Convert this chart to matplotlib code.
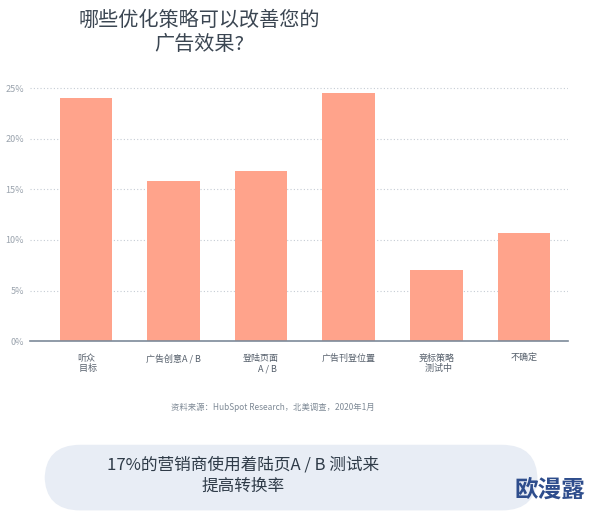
import matplotlib.pyplot as plt
from matplotlib.patches import FancyBboxPatch

plt.rcParams['font.family'] = ['Noto Sans CJK SC', 'DejaVu Sans']

categories = ["听众\n  目标", "广告创意A / B", "登陆页面\n      A / B", "广告刊登位置", "竞标策略\n  测试中", "不确定"]
values = [24.0, 15.8, 16.8, 24.5, 7.0, 10.7]
yticks = [0, 5, 10, 15, 20, 25]
ytick_labels = ["0%", "5%", "10%", "15%", "20%", "25%"]

fig = plt.figure(figsize=(5.94, 5.13), dpi=100)
ax = fig.add_axes([0.05, 0.335, 0.906, 0.509])

ax.bar(range(len(values)), values, width=0.6, color="#FFA38B", zorder=2)
ax.set_xlim(-0.64, 5.5)
ax.set_ylim(0, 25.8)
ax.set_yticks(yticks)
ax.set_yticklabels(ytick_labels, fontsize=6.5, color="#9aa3ad")
ax.yaxis.grid(True, linestyle=(0, (1, 2)), color="#c5ccd4", linewidth=0.8, zorder=0)
ax.tick_params(axis="y", length=0, pad=4)
ax.set_xticks(range(len(categories)))
ax.set_xticklabels(categories, fontsize=6.5, color="#555f6b", va="top")
ax.tick_params(axis="x", length=0, pad=9)
for s in ["top", "right", "left"]:
    ax.spines[s].set_visible(False)
ax.spines["bottom"].set_color("#7d8a99")
ax.spines["bottom"].set_linewidth(1.2)

fig.text(0.335, 0.98, "哪些优化策略可以改善您的\n广告效果?", ha="center", va="top",
         fontsize=14.5, color="#3b4652", linespacing=1.2)
fig.text(0.46, 0.2, "资料来源：HubSpot Research，北美调查，2020年1月", ha="center",
         fontsize=6, color="#7f8a96")

box = FancyBboxPatch((0.075, 0.005), 0.83, 0.128, boxstyle="round,pad=0,rounding_size=0.06",
                     transform=fig.transFigure, facecolor="#e8edf5", edgecolor="none",
                     mutation_aspect=594 / 513)
fig.patches.append(box)
fig.text(0.41, 0.073, "17%的营销商使用着陆页A / B 测试来\n提高转换率", ha="center", va="center",
         fontsize=12, color="#2f3b48", linespacing=1.3)
fig.text(0.925, 0.045, "欧漫露", ha="center", va="center", fontsize=17, fontweight="bold",
         color="#2e4d8c")

fig.savefig("out.png", dpi=100)
